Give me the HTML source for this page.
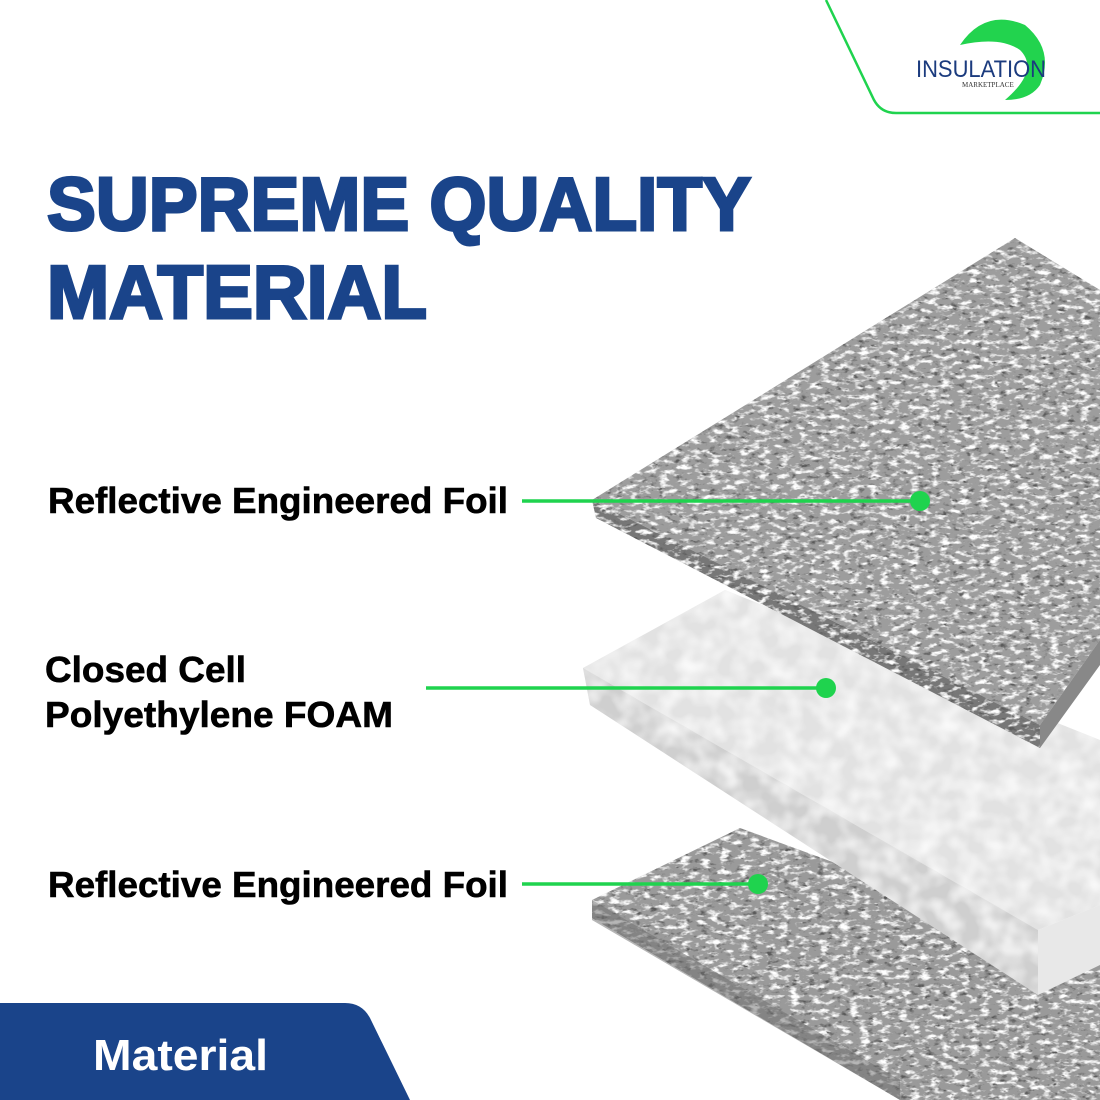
<!DOCTYPE html>
<html><head><meta charset="utf-8"><style>
html,body{margin:0;padding:0;background:#fff;width:1100px;height:1100px;overflow:hidden}
svg{display:block}
text{font-family:"Liberation Sans",sans-serif;font-weight:bold}
</style></head><body>
<svg width="1100" height="1100" viewBox="0 0 1100 1100" xmlns="http://www.w3.org/2000/svg">
<defs>
<filter id="foil" x="0" y="0" width="100%" height="100%">
<feTurbulence type="fractalNoise" baseFrequency="0.12 0.25" numOctaves="3" seed="3" result="n1"/>
<feColorMatrix in="n1" type="matrix" values="0 0 0 0 0.1  0 0 0 0 0.1  0 0 0 0 0.1  4 0 0 0 -2.3" result="dark"/>
<feComposite in="dark" in2="SourceGraphic" operator="in" result="d2"/>
<feTurbulence type="fractalNoise" baseFrequency="0.1 0.2" numOctaves="3" seed="11" result="n2"/>
<feColorMatrix in="n2" type="matrix" values="0 0 0 0 1  0 0 0 0 1  0 0 0 0 1  4 0 0 0 -2.0" result="light"/>
<feComposite in="light" in2="SourceGraphic" operator="in" result="l2"/>
<feMerge><feMergeNode in="SourceGraphic"/><feMergeNode in="l2"/><feMergeNode in="d2"/></feMerge>
</filter>
<filter id="foam" x="0" y="0" width="100%" height="100%">
<feTurbulence type="fractalNoise" baseFrequency="0.05" numOctaves="2" seed="7"/>
<feColorMatrix type="matrix" values="0 0 0 0 1  0 0 0 0 1  0 0 0 0 1  1.5 0 0 0 -0.5"/>
<feComposite in2="SourceGraphic" operator="in"/>
<feMerge><feMergeNode in="SourceGraphic"/><feMergeNode/></feMerge>
</filter>
</defs>
<rect width="1100" height="1100" fill="#fff"/>

<path d="M826 0 L874 100 Q881 113 896 113 L1100 113" fill="none" stroke="#1fd34e" stroke-width="2.5"/>
<path d="M960 45 Q985 8 1025 25 Q1055 50 1040 85 Q1030 100 1005 100 Q1040 70 1020 50 Q1000 36 960 45 Z" fill="#22d34e"/>
<text x="916" y="77" font-size="24" fill="#1b3b7e" textLength="130" lengthAdjust="spacingAndGlyphs" style="font-family:'Liberation Sans Narrow','Liberation Sans',sans-serif;font-weight:normal">INSULATION</text>
<text x="962" y="87" font-size="7" fill="#333" style="font-family:'Liberation Serif',serif;font-weight:normal">MARKETPLACE</text>

<text x="47" y="230" font-size="75" fill="#1a448a" stroke="#1a448a" stroke-width="3" textLength="704" lengthAdjust="spacingAndGlyphs">SUPREME QUALITY</text>
<text x="47" y="318" font-size="75" fill="#1a448a" stroke="#1a448a" stroke-width="3" textLength="380" lengthAdjust="spacingAndGlyphs">MATERIAL</text>

<polygon points="592,900 740,828 1100,960 1100,1100 900,1100 592,918" fill="#9a9a9a" filter="url(#foil)"/>
<polygon points="592,900 900,1080 900,1100 592,920" fill="#6e6e6e" opacity="0.5"/>

<polygon points="583,668 725,590 1100,740 1100,905 1038,930" fill="#e2e2e2" filter="url(#foam)"/>
<polygon points="583,668 1038,930 1038,995 590,705" fill="#cfcfcf" filter="url(#foam)"/>
<polygon points="1038,930 1100,905 1100,965 1038,995" fill="#e8e8e8"/>

<polygon points="592,500 1015,238 1100,290 1100,640 1040,725" fill="#9d9d9d" filter="url(#foil)"/>
<polygon points="592,500 1040,725 1040,748 596,518" fill="#777" filter="url(#foil)"/>
<polygon points="1040,725 1100,640 1100,665 1040,748" fill="#888"/>

<g stroke="#1fd34e" stroke-width="3.5" fill="#1fd34e">
<line x1="522" y1="501" x2="920" y2="501"/><circle cx="920" cy="501" r="10" stroke="none"/>
<line x1="426" y1="688" x2="826" y2="688"/><circle cx="826" cy="688" r="10" stroke="none"/>
<line x1="522" y1="884" x2="758" y2="884"/><circle cx="758" cy="884" r="10" stroke="none"/>
</g>

<g fill="#000" stroke="#000" stroke-width="0.6">
<text x="48" y="513" font-size="36" textLength="460" lengthAdjust="spacingAndGlyphs">Reflective Engineered Foil</text>
<text x="45" y="682" font-size="36" textLength="201" lengthAdjust="spacingAndGlyphs">Closed Cell</text>
<text x="45" y="727" font-size="36" textLength="348" lengthAdjust="spacingAndGlyphs">Polyethylene FOAM</text>
<text x="48" y="897" font-size="36" textLength="460" lengthAdjust="spacingAndGlyphs">Reflective Engineered Foil</text>
</g>

<path d="M0 1003 L345 1003 Q362 1003 370 1018 L410 1100 L0 1100 Z" fill="#1a448a"/>
<text x="93" y="1070" font-size="44" fill="#fff" textLength="175" lengthAdjust="spacingAndGlyphs">Material</text>
</svg>
</body></html>
